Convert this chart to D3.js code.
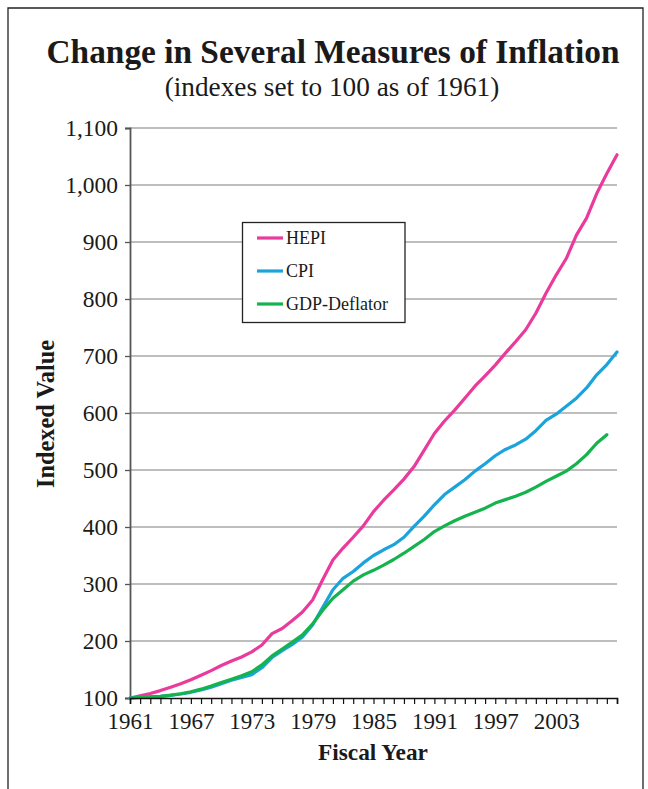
<!DOCTYPE html>
<html><head><meta charset="utf-8">
<script src="https://cdn.jsdelivr.net/npm/d3@7"></script>
<style>
html,body{margin:0;padding:0;background:#fff;}
svg{display:block;}
svg text{font-family:"Liberation Serif","Times New Roman",serif !important;fill:#1a1a1a;}
</style></head>
<body>
<svg id="chart" width="648" height="789"></svg>
<script>
const years = d3.range(1961, 2010);
const hepi = [100,104,108,113,119,125,132,140,148,157,165,172,181,193,213,222,236,251,272,308,
  342,363,382,402,427,447,465,484,506,535,564,586,605,626,647,665,684,705,725,746,
  775,810,842,871,912,942,985,1020,1053];
const cpi = [100,101,102,103,104.5,107,110,114,119,125,131,136,141,153,171,183,194,207,228,259,
  290,310,322,337,350,360,369,382,401,419,439,457,470,483,498,511,525,536,544,554,
  569,587,598,612,626,644,667,685,707];
const gdpDeflator = [100,101,102,103,105,107.5,111,115.5,121,127,133,139,146,158,174,186,198,211,230,254,
  275,290,305,316,324,333,343,354,366,378,392,402,411,419,426,433,442,448,454,461,
  470,480,489,498,511,527,547,562];
const seriesNames = ["HEPI","CPI","GDP-Deflator"];
const seriesColors = ["#ea3a9c","#1ba3dc","#14b34d"];
const yTicks = [100,200,300,400,500,600,700,800,900,1000,1100];
const xTickLabels = ["1961","1967","1973","1979","1985","1991","1997","2003"];

const svg = d3.select("#chart");

// outer frame
svg.append("path").attr("d","M8,795 L8,8 L643,8 L643,795")
  .attr("fill","none").attr("stroke","#222").attr("stroke-width",1.3);

const x = d3.scaleLinear().domain([1961,2009]).range([130,617]);
const y = d3.scaleLinear().domain([100,1100]).range([698,128]);

function fit(sel, target){
  const w = sel.node().getComputedTextLength();
  const fs = parseFloat(sel.attr("font-size"));
  sel.attr("font-size", fs*target/w);
}

// titles
const t1 = svg.append("text").attr("x",333).attr("y",63).attr("text-anchor","middle")
  .attr("font-size",30).attr("font-weight","bold").text("Change in Several Measures of Inflation");
fit(t1,573);
const t2 = svg.append("text").attr("x",332).attr("y",96).attr("text-anchor","middle")
  .attr("font-size",22).text("(indexes set to 100 as of 1961)");
fit(t2,335);

// gridlines
svg.append("g").selectAll("line").data(yTicks.slice(1)).join("line")
  .attr("x1",130).attr("x2",617).attr("y1",d=>y(d)).attr("y2",d=>y(d))
  .attr("stroke","#a8a8a8").attr("stroke-width",1.3);

// y axis
const yAxis = svg.append("g").attr("transform","translate(130,0)")
  .call(d3.axisLeft(y).tickValues(yTicks).tickFormat(d3.format(",")).tickSize(5).tickPadding(7));
yAxis.attr("font-family",null);
yAxis.select(".domain").attr("stroke","#555").attr("stroke-width",1.8);
yAxis.selectAll(".tick line").attr("stroke","#555").attr("stroke-width",1.3);
yAxis.selectAll(".tick text").attr("font-size",23.5).attr("fill","#1a1a1a");

// lines
const line = d3.line().x((d,i)=>x(years[i])).y(d=>y(d));
const data = [hepi,cpi,gdpDeflator];
svg.append("g").selectAll("path").data(data).join("path")
  .attr("d",d=>line(d)).attr("fill","none")
  .attr("stroke",(d,i)=>seriesColors[i]).attr("stroke-width",3.2)
  .attr("stroke-linejoin","round").attr("stroke-linecap","round");

// x axis
const xAxis = svg.append("g").attr("transform","translate(0,698)")
  .call(d3.axisBottom(x).tickValues(years).tickSize(6).tickPadding(9)
    .tickFormat(d => xTickLabels.includes(String(d)) ? String(d) : ""));
xAxis.attr("font-family",null);
xAxis.select(".domain").attr("stroke","#111").attr("stroke-width",1.6);
xAxis.selectAll(".tick line").attr("stroke","#111").attr("stroke-width",1.2);
xAxis.selectAll(".tick text").attr("font-size",23).attr("fill","#1a1a1a");

// axis titles
const xt = svg.append("text").attr("x",373).attr("y",760).attr("text-anchor","middle")
  .attr("font-size",20).attr("font-weight","bold").text("Fiscal Year");
fit(xt,110);
const yt = svg.append("text").attr("transform","translate(54,414) rotate(-90)").attr("text-anchor","middle")
  .attr("font-size",20).attr("font-weight","bold").text("Indexed Value");
fit(yt,148);

// legend
const lg = svg.append("g");
lg.append("rect").attr("x",242.5).attr("y",222.5).attr("width",162.5).attr("height",100)
  .attr("fill","#fff").attr("stroke","#222").attr("stroke-width",1.3);
const ly = [238,271,304];
seriesNames.forEach((n,i)=>{
  lg.append("line").attr("x1",257).attr("x2",283).attr("y1",ly[i]).attr("y2",ly[i])
    .attr("stroke",seriesColors[i]).attr("stroke-width",3.2);
  lg.append("text").attr("x",286).attr("y",ly[i]).attr("dy","0.35em")
    .attr("font-size",18).text(n);
});
</script>
</body></html>
